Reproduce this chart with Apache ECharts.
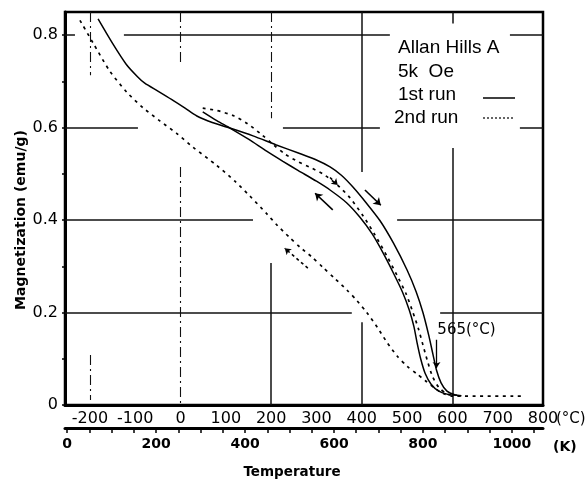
<!DOCTYPE html>
<html>
<head>
<meta charset="utf-8">
<script src="https://cdn.jsdelivr.net/npm/echarts@6/dist/echarts.min.js"></script>
<style>
  html, body { margin: 0; padding: 0; background: #fff; }
  #chart { width: 587px; height: 484px; }
</style>
</head>
<body>
<div id="chart"></div>
<script>
// Axis ticks and labels
const celsiusLabels = [-200, -100, 0, 100, 200, 300, 400, 500, 600, 700, 800];
const kelvinLabels = [0, 200, 400, 600, 800, 1000];
const kelvinTicks = [0, 50, 100, 150, 200, 250, 300, 350, 400, 450, 500, 550, 600, 650, 700, 750, 800, 850, 900, 950, 1000, 1050];
const magLabels = [0, 0.2, 0.4, 0.6, 0.8];
const magTicks = [0, 0.1, 0.2, 0.3, 0.4, 0.5, 0.6, 0.7, 0.8];

// Magnetization (emu/g) against temperature (°C)
const firstRunHeating = [
  [-182, 0.835], [-150, 0.782], [-120, 0.737], [-95, 0.710], [-79, 0.696],
  [-50, 0.679], [-20, 0.661], [10, 0.642], [36, 0.625], [70, 0.611],
  [109, 0.599], [160, 0.582], [210, 0.563], [260, 0.545], [300, 0.530],
  [330, 0.515], [355, 0.497], [380, 0.472], [410, 0.437], [440, 0.399],
  [470, 0.350], [500, 0.292], [520, 0.245], [535, 0.200], [548, 0.150],
  [557, 0.110], [565, 0.075], [575, 0.048], [588, 0.030], [605, 0.022], [620, 0.020]
];
const firstRunCooling = [
  [49, 0.634], [80, 0.615], [109, 0.599], [150, 0.575], [190, 0.549],
  [226, 0.527], [260, 0.507], [300, 0.484], [330, 0.465], [367, 0.437],
  [396, 0.406], [423, 0.370], [447, 0.329], [470, 0.285], [490, 0.244],
  [505, 0.205], [515, 0.170], [522, 0.135], [530, 0.100], [540, 0.068],
  [553, 0.045], [570, 0.030], [590, 0.023], [610, 0.021]
];
const secondRunHeating = [
  [49, 0.642], [80, 0.637], [116, 0.626], [147, 0.609], [180, 0.584],
  [205, 0.563], [230, 0.543], [260, 0.526], [286, 0.514], [314, 0.500],
  [345, 0.477], [374, 0.448], [403, 0.409], [429, 0.368], [455, 0.323],
  [478, 0.280], [498, 0.240], [513, 0.200], [525, 0.165], [535, 0.130],
  [545, 0.095], [556, 0.062], [570, 0.038], [588, 0.024], [606, 0.019]
];
const secondRunCooling = [
  [-222, 0.832], [-193, 0.783], [-156, 0.722], [-118, 0.676], [-83, 0.643],
  [-45, 0.614], [-8, 0.587], [27, 0.558], [80, 0.518], [120, 0.484],
  [153, 0.452], [190, 0.414], [213, 0.389], [240, 0.363], [264, 0.341],
  [290, 0.320], [314, 0.298], [340, 0.274], [367, 0.249], [390, 0.225],
  [411, 0.200], [435, 0.167], [456, 0.135], [478, 0.106], [500, 0.084],
  [522, 0.067], [540, 0.053], [560, 0.037], [580, 0.025], [601, 0.019], [754, 0.019]
];

// Direction arrows along the runs: [from, to]
const solidArrows = [
  [[407, 0.465], [442, 0.432]],
  [[336, 0.422], [297, 0.458]]
];
const dashedArrows = [
  [[281, 0.296], [230, 0.339]],
  [[330, 0.492], [347, 0.476]]
];
const curieTemp = 565;
const curieArrow = [[curieTemp, 0.141], [curieTemp, 0.080]];

// Hand-drawn grid: horizontal [M, fromT, toT], vertical [T, fromM, toM, dashed]
const hGrid = [
  [0.8, -255, -233], [0.8, -125, 462], [0.8, 727, 800],
  [0.6, -255, -94], [0.6, 226, 440], [0.6, 749, 800],
  [0.4, -255, 160], [0.4, 478, 800],
  [0.2, -255, 378], [0.2, 573, 800]
];
const vGrid = [
  [-200, 0.85, 0.713, true], [-200, 0.108, 0.011, true],
  [0, 0.85, 0.735, true], [0, 0.515, 0, true],
  [200, 0.85, 0.62, true], [200, 0.307, 0, false],
  [400, 0.85, 0.504, false], [400, 0.179, 0, false],
  [600, 0.556, 0, false], [600, 0.85, 0.825, false]
];

const ink = '#000';
const gridData = [];
hGrid.forEach(([m, a, b]) => gridData.push({ coords: [[a, m], [b, m]] }));
vGrid.forEach(([t, a, b, d]) => gridData.push({
  coords: [[t, a], [t, b]],
  lineStyle: d ? { type: [10, 4, 2, 4], width: 1.1 } : { type: 'solid' }
}));

const chart = echarts.init(document.getElementById('chart'), null, { renderer: 'canvas' });

const dotted = [3, 4.5];
const curveSmooth = 0.25;

chart.setOption({
  animation: false,
  backgroundColor: '#fff',
  grid: { left: 65, right: 44, top: 12, bottom: 79, show: true, borderColor: '#000', borderWidth: 2.5 },
  xAxis: [
    {
      type: 'value', min: -255, max: 800, position: 'bottom',
      axisLine: { onZero: false, lineStyle: { color: '#000', width: 3 } },
      axisTick: { show: false },
      splitLine: { show: false },
      axisLabel: {
        customValues: celsiusLabels, color: '#000', fontFamily: 'DejaVu Sans',
        fontSize: 16, margin: 6, formatter: v => String(v)
      }
    },
    {
      type: 'value', min: -5, max: 1070, position: 'bottom', offset: 23,
      axisLine: { onZero: false, lineStyle: { color: '#000', width: 3 } },
      axisTick: { customValues: kelvinTicks, length: 5, lineStyle: { color: '#000', width: 1.5 } },
      splitLine: { show: false },
      axisLabel: {
        customValues: kelvinLabels, color: '#000', fontFamily: 'DejaVu Sans',
        fontWeight: 'bold', fontSize: 14, margin: 9, formatter: v => String(v)
      }
    }
  ],
  yAxis: {
    type: 'value', min: 0, max: 0.85,
    axisLine: { onZero: false, lineStyle: { color: '#000', width: 3 } },
    axisTick: { customValues: magTicks, length: 3, lineStyle: { color: '#000', width: 1.5 } },
    splitLine: { show: false },
    axisLabel: {
      customValues: magLabels, color: '#000', fontFamily: 'DejaVu Sans', fontSize: 16, margin: 7,
      formatter: v => (v === 0 ? '0' : v.toFixed(1))
    }
  },
  series: [
    {
      type: 'lines', coordinateSystem: 'cartesian2d', silent: true, z: 1,
      lineStyle: { color: '#111', width: 1.5, opacity: 1 },
      data: gridData
    },
    {
      name: '1st run', type: 'line', data: firstRunHeating, showSymbol: false,
      smooth: curveSmooth, z: 3, lineStyle: { color: ink, width: 1.5 }
    },
    {
      name: '1st run', type: 'line', data: firstRunCooling, showSymbol: false,
      smooth: curveSmooth, z: 3, lineStyle: { color: ink, width: 1.5 }
    },
    {
      name: '2nd run', type: 'line', data: secondRunHeating, showSymbol: false,
      smooth: curveSmooth, z: 3, lineStyle: { color: ink, width: 1.7, type: dotted }
    },
    {
      name: '2nd run', type: 'line', data: secondRunCooling, showSymbol: false,
      smooth: curveSmooth, z: 3, lineStyle: { color: ink, width: 1.7, type: dotted }
    },
    {
      type: 'lines', coordinateSystem: 'cartesian2d', silent: true, z: 4,
      symbol: ['none', 'arrow'], symbolSize: 7,
      lineStyle: { color: ink, width: 1.6, opacity: 1 },
      data: solidArrows.map(c => ({ coords: c }))
    },
    {
      type: 'lines', coordinateSystem: 'cartesian2d', silent: true, z: 4,
      symbol: ['none', 'arrow'], symbolSize: 6,
      lineStyle: { color: ink, width: 1.6, opacity: 1, type: [3, 3] },
      data: dashedArrows.map(c => ({ coords: c }))
    },
    {
      type: 'lines', coordinateSystem: 'cartesian2d', silent: true, z: 4,
      symbol: ['none', 'arrow'], symbolSize: 6,
      lineStyle: { color: ink, width: 1.3, opacity: 1 },
      label: {
        show: true, position: 'start', formatter: curieTemp + '(°C)',
        color: '#000', fontFamily: 'DejaVu Sans', fontSize: 15, offset: [30, -2]
      },
      data: [{ coords: curieArrow }]
    }
  ],
  graphic: [
    // in-plot key
    { type: 'text', left: 398, top: 38, style: { text: 'Allan Hills A', fill: '#000', font: '19px "Liberation Sans"' } },
    { type: 'text', left: 398, top: 62, style: { text: '5k  Oe', fill: '#000', font: '19px "Liberation Sans"' } },
    { type: 'text', left: 398, top: 85, style: { text: '1st run', fill: '#000', font: '19px "Liberation Sans"' } },
    { type: 'text', left: 394, top: 108, style: { text: '2nd run', fill: '#000', font: '19px "Liberation Sans"' } },
    { type: 'line', shape: { x1: 483, y1: 98, x2: 515, y2: 98 }, style: { stroke: ink, lineWidth: 1.5 } },
    { type: 'line', shape: { x1: 483, y1: 118, x2: 515, y2: 118 }, style: { stroke: ink, lineWidth: 1.2, lineDash: [2, 2] } },
    // axis titles and units
    {
      type: 'text', x: 21, y: 220, rotation: Math.PI / 2,
      style: { text: 'Magnetization (emu/g)', fill: '#000', font: 'bold 14px "DejaVu Sans"', align: 'center', verticalAlign: 'middle' }
    },
    { type: 'text', x: 292, y: 472, style: { text: 'Temperature', fill: '#000', font: 'bold 13.5px "DejaVu Sans"', align: 'center', verticalAlign: 'middle' } },
    { type: 'text', x: 556, y: 419, style: { text: '(°C)', fill: '#000', font: '15px "DejaVu Sans"', align: 'left', verticalAlign: 'middle' } },
    { type: 'text', x: 553, y: 447, style: { text: '(K)', fill: '#000', font: 'bold 14px "DejaVu Sans"', align: 'left', verticalAlign: 'middle' } }
  ]
});
</script>
</body>
</html>
